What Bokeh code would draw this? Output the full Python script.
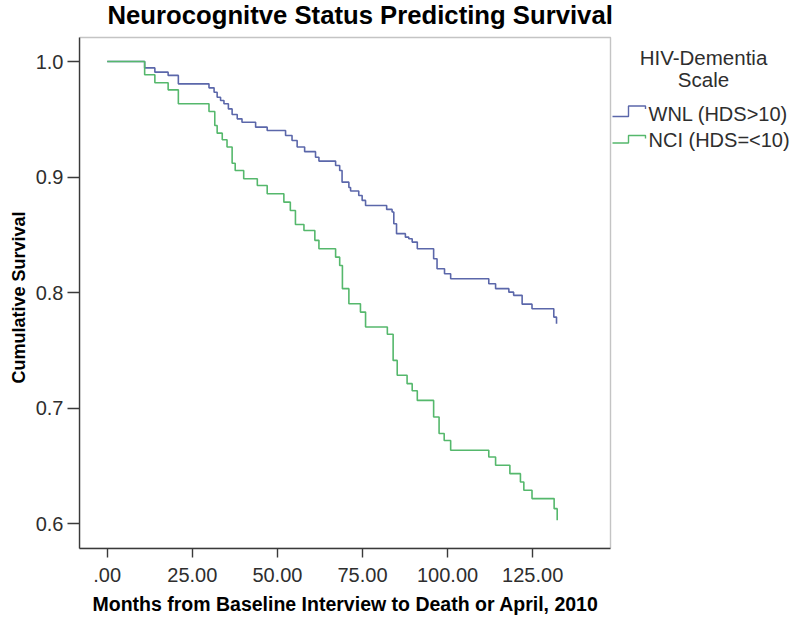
from bokeh.plotting import figure
from bokeh.models import Range1d, FixedTicker, BoxAnnotation, Title
from bokeh.embed import file_html
from bokeh.resources import INLINE
from bokeh.core.properties import value

# ---------------- data ----------------
TITLE = "Neurocognitve Status Predicting Survival"
X_LABEL = "Months from Baseline Interview to Death or April, 2010"
Y_LABEL = "Cumulative Survival"
LEGEND_TITLE = ["HIV-Dementia", "Scale"]
SERIES_NAMES = ["WNL (HDS>10)", "NCI (HDS=<10)"]

wnl_months = [0, 11.0, 14.0, 17.9, 20.9, 29.9, 31.4, 32.3, 33.3, 34.3, 35.6, 36.7, 38.2, 39.6,
              43.6, 47.0, 52.4, 54.3, 55.8, 58.0, 61.2, 62.2, 67.1, 68.3, 69.0, 71.0, 71.5,
              73.9, 74.9, 75.9, 82.1, 83.7, 84.2, 85.0, 87.6, 88.6, 89.6, 91.1, 95.9, 96.9,
              99.1, 100.9, 112.1, 114.1, 118.0, 119.4, 121.9, 124.8, 131.2, 132.0]
wnl_surv = [1.0, 0.9945, 0.9908, 0.988, 0.9807, 0.9772, 0.9734, 0.9691, 0.9663, 0.9634, 0.959,
            0.9542, 0.9504, 0.9475, 0.9432, 0.9403, 0.936, 0.9317, 0.926, 0.922, 0.9172, 0.9138,
            0.910, 0.9057, 0.8956, 0.891, 0.888, 0.884, 0.8798, 0.8754, 0.872, 0.8697, 0.8596,
            0.851, 0.848, 0.8466, 0.8437, 0.838, 0.8293, 0.8207, 0.8163, 0.812, 0.8077, 0.8034,
            0.8004, 0.7976, 0.790, 0.786, 0.7788, 0.773]

nci_months = [0, 11.0, 14.0, 17.9, 20.9, 29.9, 31.6, 32.3, 33.8, 35.2, 36.7, 37.6, 40.1, 44.1,
              47.0, 51.9, 53.8, 55.3, 57.8, 61.0, 62.2, 67.1, 68.3, 69.1, 71.0, 74.4, 75.9,
              82.3, 84.0, 85.2, 88.1, 89.6, 91.1, 95.9, 97.5, 99.0, 100.9, 112.1, 114.1, 118.3,
              121.4, 122.4, 124.8, 131.3, 132.2]
nci_surv = [1.0, 0.9885, 0.9816, 0.9755, 0.9634, 0.9567, 0.9446, 0.938, 0.9323, 0.926, 0.912,
            0.9057, 0.8985, 0.8927, 0.8856, 0.8783, 0.8711, 0.859, 0.8538, 0.8452, 0.838, 0.8307,
            0.8235, 0.8034, 0.7904, 0.7831, 0.7702, 0.764, 0.7413, 0.7284, 0.7212, 0.715, 0.7067,
            0.6923, 0.678, 0.672, 0.6635, 0.6577, 0.6505, 0.6433, 0.636, 0.6289, 0.6217, 0.613,
            0.603]

x_ticks = [0, 25, 50, 75, 100, 125]
x_tick_labels = [".00", "25.00", "50.00", "75.00", "100.00", "125.00"]
y_ticks = [0.6, 0.7, 0.8, 0.9, 1.0]
y_tick_labels = ["0.6", "0.7", "0.8", "0.9", "1.0"]

# ---------------- layout / style ----------------
W, H = 800, 627
BOX_L, BOX_R, BOX_T, BOX_B = 79, 610, 37, 548      # plot box in page pixels
X_START, X_END_BOX = -8.14, 147.86                  # data range of the plot box
Y_START, Y_END_BOX = 0.5785, 1.0208
PPX = (BOX_R - BOX_L) / (X_END_BOX - X_START)       # pixels per month
PPY = (BOX_B - BOX_T) / (Y_END_BOX - Y_START)       # pixels per survival unit


def xd(px):
    return X_START + (px - BOX_L) / PPX


def yd(py):
    return Y_START + (BOX_B - py) / PPY


FONT = "Liberation Sans"
WNL_COLOR = "#5b67aa"
NCI_COLOR = "#55b86c"
AXIS_COLOR = "#3a3a3a"
TEXT_COLOR = "#2e2e2e"

p = figure(width=W, height=H, title=None,
           x_range=Range1d(X_START, xd(W)), y_range=Range1d(Y_START, yd(0)),
           output_backend="svg", toolbar_location=None,
           min_border_left=BOX_L, min_border_right=0, min_border_top=0,
           min_border_bottom=H - BOX_B,
           background_fill_color="white", border_fill_color="white")
p.grid.visible = False
p.outline_line_color = None

p.step(wnl_months, wnl_surv, mode="after", line_color=WNL_COLOR, line_width=1.6)
p.step(nci_months, nci_surv, mode="after", line_color=NCI_COLOR, line_width=1.6)

p.add_layout(BoxAnnotation(left=X_START, right=X_END_BOX, bottom=Y_START, top=Y_END_BOX,
                           fill_alpha=0, fill_color=None, line_color=AXIS_COLOR,
                           line_width=1.4))

# chart title (drawn in the open area above the plot box)
p.text(x=[xd(107)], y=[yd(14.5)], text=[TITLE], text_align="left",
       text_baseline="middle", text_font=value(FONT), text_font_size=value("25.7px"),
       text_font_style="bold", text_color="black")

p.xaxis.ticker = FixedTicker(ticks=x_ticks)
p.xaxis.major_label_overrides = dict(zip(x_ticks, x_tick_labels))
p.xaxis.bounds = (X_START, X_END_BOX)
p.yaxis.ticker = FixedTicker(ticks=y_ticks)
p.yaxis.major_label_overrides = dict(zip(y_ticks, y_tick_labels))
p.yaxis.bounds = (Y_START, Y_END_BOX)

for ax in (p.xaxis[0], p.yaxis[0]):
    ax.axis_line_color = AXIS_COLOR
    ax.axis_line_width = 1.4
    ax.major_tick_line_color = AXIS_COLOR
    ax.major_tick_line_width = 1.4
    ax.major_tick_in = 0
    ax.minor_tick_line_color = None
    ax.major_label_text_font = FONT
    ax.major_label_text_font_size = "20px"
    ax.major_label_text_color = TEXT_COLOR

p.xaxis.major_tick_out = 9
p.xaxis.major_label_standoff = 10
p.yaxis.major_tick_out = 12
p.yaxis.major_label_standoff = 4

# axis titles, positioned along the plot box (not the legend area)
xt = Title(text=X_LABEL, align="left", offset=13, standoff=12,
           text_font=FONT, text_font_size="19.5px", text_font_style="bold",
           text_color="black")
p.add_layout(xt, "below")
yt = Title(text=Y_LABEL, align="left", offset=165, standoff=8,
           text_font=FONT, text_font_size="18px", text_font_style="bold",
           text_color="black")
p.add_layout(yt, "left")

# ---------------- legend (right of the plot box) ----------------
p.text(x=[xd(703), xd(703)], y=[yd(57), yd(79)], text=LEGEND_TITLE,
       text_align="center", text_baseline="middle",
       text_font=value(FONT), text_font_size=value("20.5px"), text_color=TEXT_COLOR)

item_text_py = [113, 139]
icon_low_py = [116, 142.5]
icon_high_py = [105.5, 135]
icon_end_py = [108.5, 138]
icon_px = [612, 628, 628, 645, 645]
for name, color, ty, lo, hi, en in zip(SERIES_NAMES, [WNL_COLOR, NCI_COLOR], item_text_py,
                                       icon_low_py, icon_high_py, icon_end_py):
    p.line([xd(v) for v in icon_px], [yd(lo), yd(lo), yd(hi), yd(hi), yd(en)],
           line_color=color, line_width=1.4)
    p.text(x=[xd(648)], y=[yd(ty)], text=[name], text_align="left", text_baseline="middle",
           text_font=value(FONT), text_font_size=value("20px"), text_color=TEXT_COLOR)

open("out.html", "w").write(file_html(p, INLINE))
